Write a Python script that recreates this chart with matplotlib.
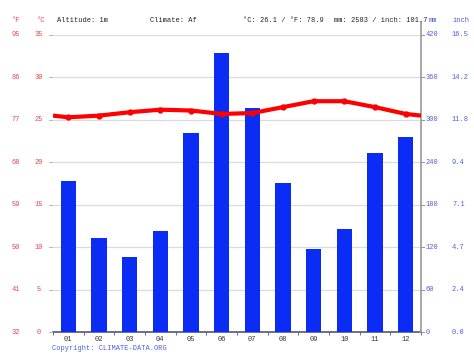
import numpy as np
import matplotlib.pyplot as plt
import matplotlib.transforms as mtransforms

# Climate chart: monthly precipitation (bars) and mean temperature (line)

months = ['01', '02', '03', '04', '05', '06', '07', '08', '09', '10', '11', '12']
temp_c = [25.3, 25.5, 25.9, 26.2, 26.1, 25.7, 25.8, 26.5, 27.2, 27.2, 26.5, 25.7]
precip_mm = [214, 133, 106, 143, 281, 395, 317, 211, 117, 145, 253, 276]

c_ticks = [0, 5, 10, 15, 20, 25, 30, 35]
mm_ticks = [0, 60, 120, 180, 240, 300, 360, 420]

red = '#ff0000'
label_red = '#e8474a'
bar_blue = '#0a2cf5'
label_blue = '#4a5ee0'
font = 'Liberation Mono'
fs = 5.0

W, H = 474, 355
fig = plt.figure(figsize=(W / 100, H / 100), dpi=100)
ax_l, ax_r, ax_b, ax_t = 53, 421, 332, 35
ax2 = fig.add_axes([ax_l / W, 1 - ax_b / H, (ax_r - ax_l) / W, (ax_b - ax_t) / H])
ax = ax2.twinx()
ax.set_zorder(ax2.get_zorder() + 1)
ax.patch.set_visible(False)

x = np.arange(1, 13)

# precipitation bars
ax2.bar(x, precip_mm, width=0.5, color=bar_blue, zorder=3)
ax2.set_ylim(0, 420)
ax2.set_xlim(0.5, 12.5)
for t in mm_ticks[1:]:
    ax2.axhline(t, color='#dcdcdc', lw=0.9, zorder=1)

# temperature line, edges use mean of Dec/Jan
edge = (temp_c[0] + temp_c[-1]) / 2
ax.plot([0.5] + list(x) + [12.5], [edge] + temp_c + [edge], color=red, lw=3.0,
        solid_capstyle='butt', zorder=4)
ax.plot(x, temp_c, 'o', color=red, ms=3.5, zorder=5)
ax.set_ylim(0, 35)

for a in (ax, ax2):
    for s in ('top', 'left', 'right', 'bottom'):
        a.spines[s].set_visible(False)
    a.set_yticks([])

ax2.spines['bottom'].set_visible(True)
ax2.spines['bottom'].set_color('#555577')
ax2.spines['bottom'].set_linewidth(1.2)

# right axis line, running a little above the plot
ax2.plot([1, 1], [0, 1 + 13 / (ax_b - ax_t)], transform=ax2.transAxes,
         color='#999999', lw=1.2, clip_on=False, zorder=6)

ax2.set_xticks(x)
ax2.set_xticklabels(months, fontsize=fs, family=font, color='#333333')
ax2.tick_params(axis='x', length=0, pad=3)
ax2.set_xticks(np.arange(0.5, 13, 1), minor=True)
ax2.tick_params(axis='x', which='minor', length=2.5, color='#6677aa', width=0.8)

# y labels on both sides
tl = mtransforms.blended_transform_factory(fig.transFigure, ax.transData)
for c in c_ticks:
    f = c * 9 / 5 + 32
    fig.text(16 / W, c, '%d' % round(f), transform=tl, ha='center', va='center',
             fontsize=fs, family=font, color=label_red)
    fig.text(39 / W, c, '%d' % c, transform=tl, ha='center', va='center',
             fontsize=fs, family=font, color=label_red)
    ax.plot([(ax_l - 4) / W, (ax_l - 1) / W], [c, c], transform=tl, color='#bbbbbb',
            lw=0.8, clip_on=False)

tr = mtransforms.blended_transform_factory(fig.transFigure, ax2.transData)
for m in mm_ticks:
    fig.text(426 / W, m, '%d' % m, transform=tr, ha='left', va='center',
             fontsize=fs, family=font, color=label_blue)
    fig.text(452 / W, m, '%.1f' % (m / 25.4), transform=tr, ha='left', va='center',
             fontsize=fs, family=font, color=label_blue)
    ax2.plot([ax_r / W, (ax_r + 3) / W], [m, m], transform=tr, color='#999999',
             lw=0.8, clip_on=False)

# header row
hy = 1 - 20 / H
fig.text(16 / W, hy, '°F', ha='center', va='center', fontsize=fs, family=font, color=label_red)
fig.text(41 / W, hy, '°C', ha='center', va='center', fontsize=fs, family=font, color=label_red)
fig.text(57 / W, hy, 'Altitude: 1m', ha='left', va='center', fontsize=fs, family=font, color='#222222')
fig.text(150 / W, hy, 'Climate: Af', ha='left', va='center', fontsize=fs, family=font, color='#222222')
fig.text(243 / W, hy, '°C: 26.1 / °F: 78.9', ha='left', va='center', fontsize=fs, family=font, color='#222222')
fig.text(334 / W, hy, 'mm: 2583 / inch: 101.7', ha='left', va='center', fontsize=fs, family=font, color='#222222')
fig.text(429 / W, hy, 'mm', ha='left', va='center', fontsize=fs, family=font, color=label_blue)
fig.text(453 / W, hy, 'inch', ha='left', va='center', fontsize=fs, family=font, color=label_blue)

fig.text(52 / W, 1 - 348 / H, 'Copyright: CLIMATE-DATA.ORG', ha='left', va='center',
         fontsize=fs, family=font, color=label_blue)

fig.savefig('out.png', dpi=100)
